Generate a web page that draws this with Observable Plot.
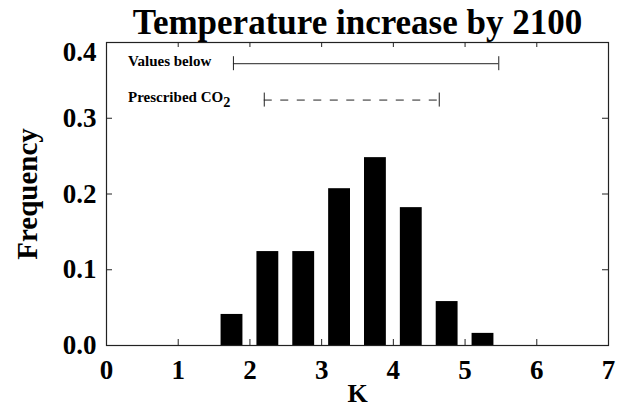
<!DOCTYPE html>
<html><head><meta charset="utf-8">
<script src="https://cdn.jsdelivr.net/npm/d3@7"></script>
<script src="https://cdn.jsdelivr.net/npm/@observablehq/plot@0.6"></script>
<style>
body{margin:0;background:#fff}
svg{font-family:"Liberation Serif","Times New Roman",serif}
</style>
</head><body><div id="chart"></div>
<script>
// ---- data ----
const binLo = [1.5, 2.0, 2.5, 3.0, 3.5, 4.0, 4.5, 5.0];
const binHi = [2.0, 2.5, 3.0, 3.5, 4.0, 4.5, 5.0, 5.5];
const frequency = [0.041, 0.124, 0.124, 0.207, 0.248, 0.182, 0.058, 0.016];

const rangeLabels = ["Values below", "Prescribed CO2"];
const rangeLow = [1.77, 2.20];
const rangeHigh = [5.47, 4.64];
const rangeLevel = [0.372, 0.324];
const rangeLabelX = [0.3, 0.3];

const xTicks = [0, 1, 2, 3, 4, 5, 6, 7];
const yTicks = [0.0, 0.1, 0.2, 0.3, 0.4];
const titleText = "Temperature increase by 2100";
const xLabel = "K";
const yLabel = "Frequency";

// ---- layout ----
const W = 618, H = 408;
const mL = 106, mR = 10, mT = 42, mB = 63;
const frameW = W - mL - mR, frameH = H - mT - mB;
const ink = "#222";
const bold = {fontWeight: "bold", fill: "black"};

const bars = d3.range(frequency.length);
const ranges = d3.range(rangeLabels.length);
const innerX = xTicks.slice(1, -1);
const innerY = yTicks.slice(1, -1);

const chart = Plot.plot({
  width: W, height: H,
  marginLeft: mL, marginRight: mR, marginTop: mT, marginBottom: mB,
  x: {domain: [xTicks[0], xTicks[xTicks.length - 1]], axis: null},
  y: {domain: [yTicks[0], yTicks[yTicks.length - 1]], axis: null},
  marks: [
    Plot.rectY(bars, {x1: i => binLo[i], x2: i => binHi[i], y: i => frequency[i],
      fill: "black", insetLeft: 7, insetRight: 7}),
    Plot.frame({stroke: ink, strokeWidth: 1.2}),
    // inward ticks on all four sides
    Plot.tickX(innerX, {x: d => d, insetTop: frameH - 6, stroke: ink}),
    Plot.tickX(innerX, {x: d => d, insetBottom: frameH - 5, stroke: ink}),
    Plot.tickY(innerY, {y: d => d, insetRight: frameW - 6, stroke: ink}),
    Plot.tickY(innerY, {y: d => d, insetLeft: frameW - 6, stroke: ink}),
    // tick labels
    Plot.text(xTicks, {x: d => d, text: d => String(d), frameAnchor: "bottom", lineAnchor: "middle",
      dy: 25, fontSize: 27, ...bold}),
    Plot.text(yTicks.slice(0, -1), {y: d => d, text: d => d.toFixed(1), frameAnchor: "left",
      textAnchor: "end", lineAnchor: "middle", dx: -10, fontSize: 27, ...bold}),
    Plot.text(yTicks.slice(-1), {y: d => d, text: d => d.toFixed(1), frameAnchor: "left",
      textAnchor: "end", lineAnchor: "top", dx: -10, dy: -1, fontSize: 27, ...bold}),
    // axis titles and chart title
    Plot.text([titleText], {frameAnchor: "top", lineAnchor: "middle", textAnchor: "middle",
      dy: -20, fontSize: 35, ...bold}),
    Plot.text([xLabel], {frameAnchor: "bottom", lineAnchor: "middle", textAnchor: "middle",
      dy: 48, fontSize: 26, ...bold}),
    Plot.text([yLabel], {frameAnchor: "left", lineAnchor: "middle", textAnchor: "middle",
      dx: -79, rotate: -90, fontSize: 29, ...bold}),
    // range bars
    Plot.ruleY([0], {x1: () => rangeLow[0], x2: () => rangeHigh[0], y: () => rangeLevel[0],
      stroke: ink, strokeWidth: 1}),
    Plot.ruleY([1], {x1: () => rangeLow[1], x2: () => rangeHigh[1], y: () => rangeLevel[1],
      stroke: ink, strokeWidth: 1, strokeDasharray: "8,8.5"}),
    Plot.ruleX(ranges, {x: i => rangeLow[i], y1: i => rangeLevel[i], y2: i => rangeLevel[i],
      insetTop: -7, insetBottom: -7, stroke: ink}),
    Plot.ruleX(ranges, {x: i => rangeHigh[i], y1: i => rangeLevel[i], y2: i => rangeLevel[i],
      insetTop: -7, insetBottom: -7, stroke: ink}),
    Plot.text(ranges, {x: i => rangeLabelX[i], y: i => rangeLevel[i], text: i => rangeLabels[i],
      textAnchor: "start", lineAnchor: "middle", dy: -2.5, fontSize: 15, ...bold})
  ]
});

// render "CO2" with a subscript 2
d3.select(chart).selectAll("text").each(function () {
  const t = this.textContent;
  if (/CO2$/.test(t)) {
    const el = d3.select(this);
    el.text(t.slice(0, -1));
    el.append("tspan").attr("dy", "0.35em").attr("font-size", "0.95em").text("2");
  }
});

document.getElementById("chart").appendChild(chart);
</script>
</body></html>
